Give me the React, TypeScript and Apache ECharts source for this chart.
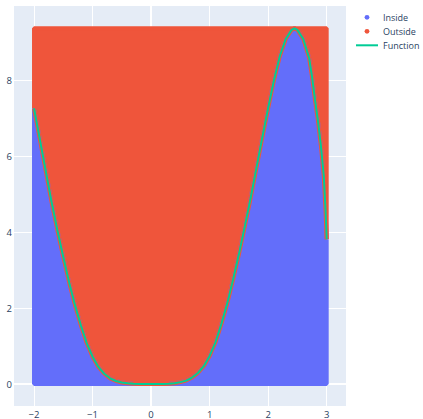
import { useEffect, useRef } from "react";
import * as echarts from "echarts";

const xValues = [
  -2.0, -1.9, -1.8, -1.7, -1.6, -1.5, -1.4, -1.3, -1.2, -1.1, -1.0, -0.9, -0.8, -0.7, -0.6, -0.5,
  -0.4, -0.3, -0.2, -0.1, 0, 0.1, 0.2, 0.3, 0.4, 0.5, 0.6, 0.7, 0.8, 0.9, 1.0, 1.1, 1.2, 1.3, 1.4,
  1.5, 1.6, 1.7, 1.8, 1.9, 2.0, 2.1, 2.2, 2.3, 2.4, 2.45, 2.5, 2.6, 2.7, 2.75, 2.8, 2.85, 2.9, 2.95,
  2.98, 3.0,
];
// function values read at those x positions
const functionValues = [
  7.27, 6.45, 5.62, 4.8, 4.05, 3.35, 2.68, 2.08, 1.55, 1.08, 0.72, 0.45, 0.27, 0.15, 0.08, 0.04,
  0.02, 0.01, 0.003, 0, 0, 0, 0.003, 0.01, 0.02, 0.05, 0.09, 0.17, 0.29, 0.47, 0.74, 1.1, 1.58, 2.12,
  2.75, 3.42, 4.15, 4.9, 5.7, 6.5, 7.28, 8.02, 8.65, 9.1, 9.34, 9.38, 9.34, 9.1, 8.6, 8.1, 7.5, 6.95,
  6.3, 5.5, 4.6, 3.82,
];
// top of the sampled box (max of the function)
const sampleTop = 9.38;
const sampleBottom = 0;
const xAxisRange = [-2.342, 3.33];
const yAxisRange = [-0.58, 9.97];
const seriesNames = ["Inside", "Outside", "Function"];

const BLUE = "#636efa";
const RED = "#ef553b";
const GREEN = "#00cc96";
const FONT = "Open Sans";
const TEXT = "#2a3f5f";

function dotIcon(color: string) {
  const svg = `<svg xmlns="http://www.w3.org/2000/svg" width="22" height="10" viewBox="0 0 22 10"><circle cx="11" cy="5" r="2.4" fill="${color}"/></svg>`;
  return "image://data:image/svg+xml;charset=utf-8," + encodeURIComponent(svg);
}
function lineIcon(color: string) {
  const svg = `<svg xmlns="http://www.w3.org/2000/svg" width="22" height="10" viewBox="0 0 22 10"><rect x="0" y="4" width="22" height="2" fill="${color}"/></svg>`;
  return "image://data:image/svg+xml;charset=utf-8," + encodeURIComponent(svg);
}

const fmt = (v: number) => String(v).replace("-", "\u2212");

export default function App() {
  const ref = useRef<HTMLDivElement>(null);
  useEffect(() => {
    if (!ref.current) return;
    document.body.style.margin = "0";
    const chart = echarts.init(ref.current, undefined, { renderer: "svg" });
    const n = xValues.length - 1;
    const curve = xValues.map((x, i) => [x, functionValues[i]]);
    const insideEdge = [
      [xValues[0], functionValues[0]],
      [xValues[0], sampleBottom],
      [xValues[n], sampleBottom],
      [xValues[n], functionValues[n]],
    ];
    const outsideEdge = [
      [xValues[0], functionValues[0]],
      [xValues[0], sampleTop],
      [xValues[n], sampleTop],
      [xValues[n], functionValues[n]],
    ];
    const common = {
      type: "line" as const,
      showSymbol: false,
      symbol: "none",
      silent: true,
      animation: false,
      emphasis: { disabled: true },
    };
    chart.setOption({
      animation: false,
      backgroundColor: "#ffffff",
      textStyle: { fontFamily: FONT },
      grid: {
        left: 14,
        right: 77,
        top: 6,
        bottom: 13,
        show: true,
        backgroundColor: "#E5ECF6",
        borderWidth: 0,
        containLabel: false,
        outerBoundsMode: "none",
      },
      legend: {
        orient: "vertical",
        left: 356,
        top: 12.3,
        padding: 0,
        itemWidth: 22,
        itemHeight: 10,
        itemGap: 4,
        selectedMode: false,
        textStyle: { fontFamily: FONT, fontSize: 9, color: TEXT, lineHeight: 10 },
        data: [
          { name: seriesNames[0], icon: dotIcon(BLUE) },
          { name: seriesNames[1], icon: dotIcon(RED) },
          { name: seriesNames[2], icon: lineIcon(GREEN) },
        ],
      },
      xAxis: {
        type: "value",
        min: xAxisRange[0],
        max: xAxisRange[1],
        splitNumber: 5,
        axisLine: { show: false },
        axisTick: { show: false },
        splitLine: { show: true, lineStyle: { color: "#ffffff", width: 1 }, showMinLine: false, showMaxLine: false },
        axisLabel: {
          margin: 3,
          fontFamily: FONT,
          fontSize: 9.5,
          color: TEXT,
          showMinLabel: false,
          showMaxLabel: false,
          formatter: fmt,
        },
      },
      yAxis: {
        type: "value",
        min: yAxisRange[0],
        max: yAxisRange[1],
        splitNumber: 5,
        axisLine: { show: false },
        axisTick: { show: false },
        splitLine: { show: true, lineStyle: { color: "#ffffff", width: 1 }, showMinLine: false, showMaxLine: false },
        axisLabel: {
          margin: 2,
          fontFamily: FONT,
          fontSize: 9.5,
          color: TEXT,
          showMinLabel: false,
          showMaxLabel: false,
          formatter: fmt,
        },
      },
      series: [
        {
          ...common,
          name: "zero",
          data: [],
          z: 1,
          markLine: {
            silent: true,
            symbol: "none",
            z: 1,
            label: { show: false },
            lineStyle: { color: "#ffffff", width: 2, type: "solid" },
            data: [{ xAxis: 0 }, { yAxis: 0 }],
          },
        },
        {
          ...common,
          name: seriesNames[0],
          data: curve,
          z: 2,
          itemStyle: { color: BLUE },
          lineStyle: { color: BLUE, width: 4 },
          areaStyle: { color: BLUE, opacity: 1, origin: sampleBottom },
        },
        {
          ...common,
          name: seriesNames[0],
          data: insideEdge,
          z: 2,
          itemStyle: { color: BLUE },
          lineStyle: { color: BLUE, width: 4 },
        },
        {
          ...common,
          name: seriesNames[1],
          data: curve,
          z: 2,
          itemStyle: { color: RED },
          lineStyle: { color: RED, width: 4 },
          areaStyle: { color: RED, opacity: 1, origin: sampleTop },
        },
        {
          ...common,
          name: seriesNames[1],
          data: outsideEdge,
          z: 2,
          itemStyle: { color: RED },
          lineStyle: { color: RED, width: 4 },
        },
        {
          ...common,
          name: seriesNames[2],
          data: curve,
          z: 3,
          itemStyle: { color: GREEN },
          lineStyle: { color: GREEN, width: 2 },
        },
      ],
    });
    return () => chart.dispose();
  }, []);
  return (
    <div
      ref={ref}
      style={{ position: "fixed", left: 0, top: 0, width: 423, height: 419, background: "#fff" }}
    />
  );
}
